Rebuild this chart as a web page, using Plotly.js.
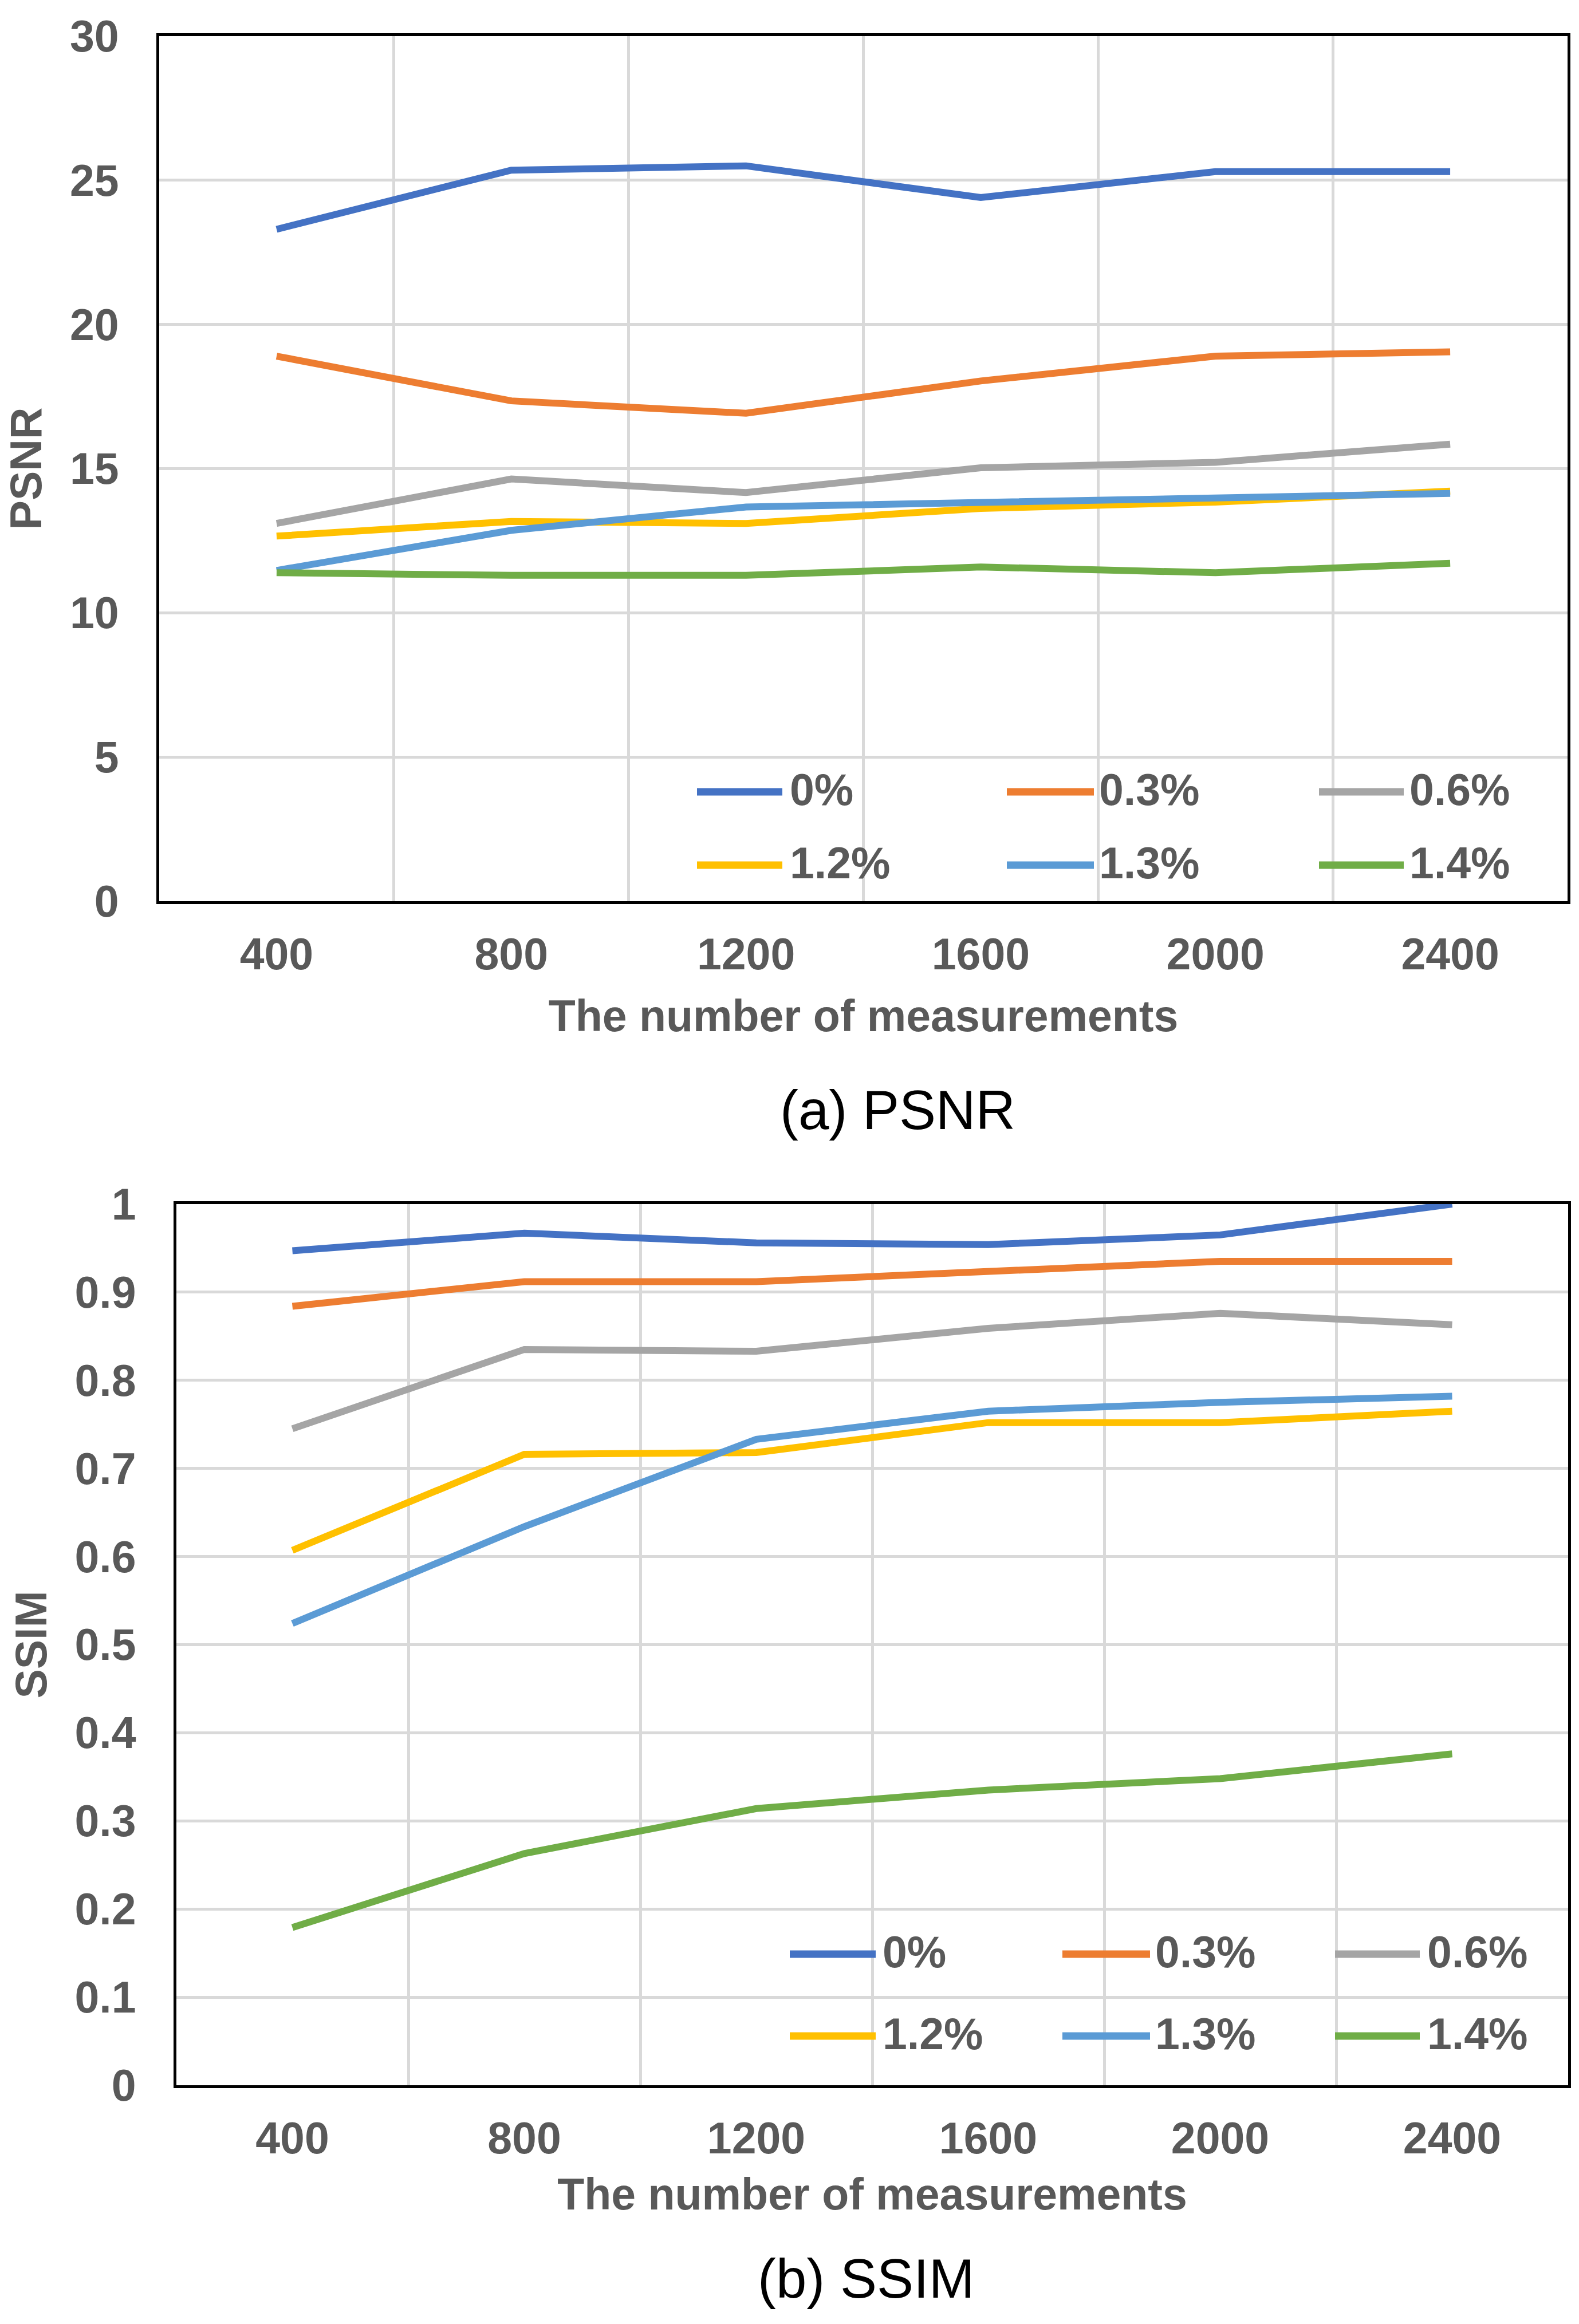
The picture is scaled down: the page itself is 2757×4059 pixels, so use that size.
<!DOCTYPE html>
<html>
<head>
<meta charset="utf-8">
<script src="https://cdn.plot.ly/plotly-3.0.1.min.js"></script>
<style>
html, body { margin: 0; padding: 0; background: #ffffff; }
#chart { width: 2757px; height: 4059px; }
</style>
</head>
<body>
<div id="chart"></div>
<script>
// ---- data ----
const measurements = ['400', '800', '1200', '1600', '2000', '2400'];
const seriesNames = ['0%', '0.3%', '0.6%', '1.2%', '1.3%', '1.4%'];
const seriesColors = ['#4472C4', '#ED7D31', '#A5A5A5', '#FFC000', '#5B9BD5', '#70AD47'];

const psnr_0 = [23.3, 25.35, 25.5, 24.4, 25.3, 25.3];
const psnr_03 = [18.9, 17.35, 16.92, 18.04, 18.9, 19.05];
const psnr_06 = [13.1, 14.64, 14.17, 15.03, 15.22, 15.85];
const psnr_12 = [12.66, 13.17, 13.1, 13.62, 13.84, 14.22];
const psnr_13 = [11.47, 12.86, 13.67, 13.83, 13.97, 14.14];
const psnr_14 = [11.39, 11.3, 11.3, 11.59, 11.39, 11.72];

const ssim_0 = [0.947, 0.967, 0.956, 0.954, 0.965, 1.0];
const ssim_03 = [0.884, 0.912, 0.912, 0.924, 0.935, 0.935];
const ssim_06 = [0.745, 0.835, 0.833, 0.859, 0.876, 0.863];
const ssim_12 = [0.607, 0.716, 0.718, 0.752, 0.752, 0.765];
const ssim_13 = [0.524, 0.634, 0.733, 0.765, 0.775, 0.782];
const ssim_14 = [0.179, 0.263, 0.314, 0.335, 0.348, 0.376];

const psnrSeries = [psnr_0, psnr_03, psnr_06, psnr_12, psnr_13, psnr_14];
const ssimSeries = [ssim_0, ssim_03, ssim_06, ssim_12, ssim_13, ssim_14];

const xTitle = 'The number of measurements';
const captionA = '(a) PSNR';
const captionB = '(b) SSIM';

// ---- layout constants (pixels) ----
const W = 2757, H = 4059;
const px = v => v / W;
const py = v => 1 - v / H;

const FONT = 'Liberation Sans, Arial, sans-serif';
const TXT = '#595959';
const GRID = '#d9d9d9';

const traces = [];
seriesNames.forEach((name, i) => {
  traces.push({
    type: 'scatter', mode: 'lines', name: name,
    x: measurements, y: psnrSeries[i], xaxis: 'x', yaxis: 'y',
    line: { color: seriesColors[i], width: 12 },
    showlegend: false, hoverinfo: 'skip'
  });
  traces.push({
    type: 'scatter', mode: 'lines', name: name,
    x: measurements, y: ssimSeries[i], xaxis: 'x2', yaxis: 'y2',
    line: { color: seriesColors[i], width: 12 },
    showlegend: false, hoverinfo: 'skip'
  });
});

const tickFont = { family: FONT, size: 77, color: TXT, weight: 'bold' };
const titleFont = { family: FONT, size: 77, color: TXT, weight: 'bold' };

function xAxis(domain, anchor, standoff) {
  return {
    type: 'category', domain: domain, anchor: anchor,
    range: [-0.5, measurements.length - 0.5], autorange: false,
    tickson: 'boundaries', ticks: '',
    showgrid: true, gridcolor: GRID, gridwidth: 5,
    showline: true, mirror: true, linecolor: '#000000', linewidth: 5,
    tickfont: tickFont, ticklabelstandoff: 22,
    title: { text: xTitle, font: titleFont, standoff: standoff },
    fixedrange: true
  };
}
function yAxis(domain, anchor, range, dtick, title) {
  return {
    domain: domain, anchor: anchor, range: range, dtick: dtick, tick0: 0,
    showgrid: true, gridcolor: GRID, gridwidth: 5, zeroline: false,
    showline: true, mirror: true, linecolor: '#000000', linewidth: 5,
    ticks: '', tickfont: tickFont, ticklabelstandoff: 50,
    title: { text: title, font: titleFont, standoff: 25 },
    fixedrange: true
  };
}

// legend (drawn as shapes + text, 3 columns x 2 rows)
const shapes = [];
const annotations = [];
const legendSpecs = [
  { x0: [1217, 1758, 2303], x1: [1366, 1910, 2451], tx: [1377, 1917, 2459], ry: [1383, 1511] },
  { x0: [1379, 1855, 2331], x1: [1529, 2008, 2479], tx: [1539, 2015, 2490], ry: [3413, 3556] }
];
legendSpecs.forEach(spec => {
  seriesNames.forEach((name, i) => {
    const col = i % 3, row = Math.floor(i / 3);
    shapes.push({
      type: 'line', xref: 'paper', yref: 'paper',
      x0: px(spec.x0[col]), x1: px(spec.x1[col]),
      y0: py(spec.ry[row]), y1: py(spec.ry[row]),
      line: { color: seriesColors[i], width: 13 }
    });
    annotations.push({
      xref: 'paper', yref: 'paper', x: px(spec.tx[col]), y: py(spec.ry[row] - 4),
      xanchor: 'left', yanchor: 'middle', showarrow: false,
      text: name, font: { family: FONT, size: 77, color: TXT, weight: 'bold' }
    });
  });
});

annotations.push({
  xref: 'paper', yref: 'paper', x: px(1567), y: py(1938),
  xanchor: 'center', yanchor: 'middle', showarrow: false,
  text: captionA, font: { family: FONT, size: 96, color: '#000000' }
});
annotations.push({
  xref: 'paper', yref: 'paper', x: px(1512), y: py(3979),
  xanchor: 'center', yanchor: 'middle', showarrow: false,
  text: captionB, font: { family: FONT, size: 96, color: '#000000' }
});

const layout = {
  width: W, height: H,
  margin: { l: 0, r: 0, t: 0, b: 0, pad: 0 },
  paper_bgcolor: '#ffffff', plot_bgcolor: '#ffffff',
  showlegend: false,
  xaxis: xAxis([px(278), px(2737)], 'y', 40),
  yaxis: yAxis([py(1574), py(63)], 'x', [0, 30], 5, 'PSNR'),
  xaxis2: xAxis([px(308), px(2738)], 'y2', 30),
  yaxis2: yAxis([py(3642), py(2103)], 'x2', [0, 1], 0.1, 'SSIM'),
  shapes: shapes,
  annotations: annotations
};

Plotly.newPlot('chart', traces, layout, { staticPlot: true, displayModeBar: false });
</script>
</body>
</html>
